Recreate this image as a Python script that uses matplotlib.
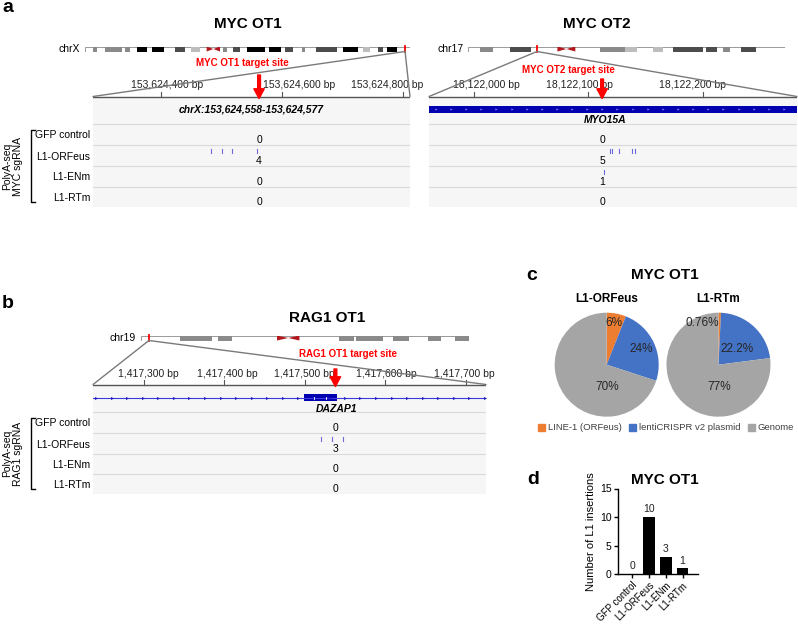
import numpy as np
import matplotlib
matplotlib.use("Agg")
import matplotlib.pyplot as plt
from matplotlib.patches import Rectangle, ConnectionPatch, Patch

plt.rcParams['font.family'] = ['Liberation Sans', 'DejaVu Sans']

W, H = 798, 627

samples = ["GFP control", "L1-ORFeus", "L1-ENm", "L1-RTm"]

# ideograms: (start Mb, end Mb, stain)
chrX_len = 156.0
chrX_bands = [(4.0, 5.9, 50), (9.6, 17.6, 50), (19.2, 21.6, 50), (25.1, 29.6, 100),
              (32.0, 37.9, 100), (43.2, 48.0, 75), (50.7, 55.2, 25), (66.1, 68.3, 50),
              (71.2, 74.4, 75), (77.6, 86.4, 100), (88.5, 93.9, 100), (96.0, 100.0, 75),
              (104.3, 105.6, 50), (110.9, 120.8, 75), (123.7, 131.2, 100),
              (133.3, 136.8, 25), (140.8, 143.2, 75), (144.8, 149.6, 100)]
chrX_cen = (58.4, 64.8)

chr17_len = 83.3
chr17_bands = [(3.2, 6.6, 50), (11.1, 16.5, 75), (34.6, 41.3, 50), (41.3, 44.4, 25),
               (48.6, 51.2, 25), (54.0, 61.7, 75), (62.6, 65.4, 75), (66.9, 68.9, 50),
               (71.7, 75.7, 75)]
chr17_cen = (23.5, 28.2)

chr19_len = 58.6
chr19_bands = [(6.9, 12.6, 50), (13.8, 16.2, 50), (35.3, 38.0, 50), (38.4, 43.2, 50),
               (45.0, 47.8, 50), (51.3, 53.6, 50), (56.1, 58.6, 50)]
chr19_cen = (24.3, 28.3)

# MYC OT1
ot1_site_mb = 153.624
ot1_view = (153624288, 153624811)
ot1_ticks = [153624400, 153624600, 153624800]
ot1_site = 153624562
ot1_region = "chrX:153,624,558-153,624,577"
ot1_insertions = [[], [153624483, 153624501, 153624517, 153624558], [], []]
ot1_counts = [0, 4, 0, 0]

# MYC OT2
ot2_site_mb = 18.122
ot2_view = (18121961, 18122282)
ot2_ticks = [18122000, 18122100, 18122200]
ot2_site = 18122112
ot2_gene = "MYO15A"
ot2_insertions = [[], [18122119, 18122121, 18122127, 18122138, 18122141], [18122114], []]
ot2_counts = [0, 5, 1, 0]

# RAG1 OT1
rag1_site_mb = 1.417
rag1_view = (1417237, 1417725)
rag1_ticks = [1417300, 1417400, 1417500, 1417600, 1417700]
rag1_site = 1417538
rag1_gene = "DAZAP1"
rag1_exon = (1417499, 1417540)
rag1_insertions = [[], [1417520, 1417534, 1417547], [], []]
rag1_counts = [0, 3, 0, 0]

# panel c
pie_sources = ["LINE-1 (ORFeus)", "lentiCRISPR v2 plasmid", "Genome"]
pie_orfeus = [6, 24, 70]
pie_rtm = [0.76, 22.2, 77]

# panel d
bar_counts = [0, 10, 3, 1]

stain_colors = {25: '#bdbdbd', 50: '#8a8a8a', 75: '#4d4d4d', 100: '#000000'}
pie_colors = ['#ED7D31', '#4472C4', '#A5A5A5']
ins_color = '#6b6bdc'
gene_blue = '#0000b0'

fig = plt.figure(figsize=(W / 100, H / 100), dpi=100, facecolor='white')


def px_axes(x0, y0, x1, y1):
    return fig.add_axes([x0 / W, 1 - y1 / H, (x1 - x0) / W, (y1 - y0) / H])


def draw_ideogram(box, length, bands, cen, site, name):
    ax = px_axes(*box)
    ax.set_xlim(0, length)
    ax.set_ylim(0, 1)
    ax.axis('off')
    ax.add_patch(Rectangle((0, 0), length, 1, fc='white', ec='#9a9a9a', lw=0.7))
    for s, e, stain in bands:
        ax.broken_barh([(s, e - s)], (0, 1), facecolors=stain_colors[stain], lw=0)
    mid = (cen[0] + cen[1]) / 2
    ax.fill([cen[0], cen[0], mid], [0, 1, 0.5], color='#b3161b', lw=0)
    ax.fill([cen[1], cen[1], mid], [0, 1, 0.5], color='#b3161b', lw=0)
    ax.plot([site, site], [-0.15, 1.15], color='red', lw=1.3, clip_on=False)
    ax.text(-length * 0.015, 0.5, name, ha='right', va='center', fontsize=7.5)
    return ax


def draw_locus(box, rows, view, ticks, tick_shift, site, arrow_top, ideo_ax, site_mb,
               insertions, counts):
    ax = px_axes(*box)
    ax.set_xlim(*view)
    ax.set_ylim(box[3], box[1])
    ax.axis('off')
    ax.axhspan(rows[0], rows[-1], color='#f6f6f6', lw=0)
    for r in rows[1:]:
        ax.axhline(r, color='#d9d9d9', lw=0.8)
    ruler_y = rows[0] - 0.5
    ax.axhline(ruler_y, color='#555555', lw=1)
    for t, sh in zip(ticks, tick_shift):
        ax.plot([t, t], [ruler_y - 5, ruler_y], color='#555555', lw=0.8)
        ax.annotate(f"{t:,} bp", (t, ruler_y - 11), xytext=(sh * 0.72, 0), textcoords='offset points',
                    ha='center', va='center', fontsize=7.5, color='#222222')
    for k, (pos, n) in enumerate(zip(insertions, counts)):
        top, bot = rows[k + 1], rows[k + 2]
        for p in pos:
            ax.plot([p, p], [top + 3.5, top + 8], color=ins_color, lw=0.8)
        ax.text(site, bot - 5, str(n), ha='center', va='center', fontsize=7.5)
    ax.annotate('', xy=(site, ruler_y + 2), xytext=(site, arrow_top),
                arrowprops=dict(arrowstyle='simple,head_length=0.7,head_width=0.75,tail_width=0.2',
                                color='red', shrinkA=0, shrinkB=0, mutation_scale=10))
    for xb in view:
        con = ConnectionPatch(xyA=(site_mb, 0), coordsA=ideo_ax.transData,
                              xyB=(xb, ruler_y), coordsB=ax.transData,
                              color='#7a7a7a', lw=1)
        fig.add_artist(con)
    return ax


rows_a = [97, 124, 145, 166, 187, 207]
rows_b = [385, 412, 433, 454, 474, 494]

# ---- panel a left
ideo1 = draw_ideogram((85, 46.5, 410, 51.5), chrX_len, chrX_bands, chrX_cen, ot1_site_mb, 'chrX')
ax1 = draw_locus((93, 60, 410, 207), rows_a, ot1_view, ot1_ticks, [6.5, 16.5, -16],
                 ot1_site, 75, ideo1, ot1_site_mb, ot1_insertions, ot1_counts)
ax1.text(np.mean(ot1_view), 109.5, ot1_region, ha='center', va='center', fontsize=7.5,
         fontweight='bold', fontstyle='italic')

# ---- panel a right
ideo2 = draw_ideogram((468, 46.5, 785, 51.5), chr17_len, chr17_bands, chr17_cen, ot2_site_mb, 'chr17')
ax2 = draw_locus((429, 60, 797, 207), rows_a, ot2_view, ot2_ticks, [13, -8.5, -11],
                 ot2_site, 79, ideo2, ot2_site_mb, ot2_insertions, ot2_counts)
ax2.axhspan(105.5, 112.5, color=gene_blue, lw=0)
chev = np.arange(ot2_view[0] + 6, ot2_view[1], 13.2)
ax2.plot(chev, np.full_like(chev, 109.0), ls='none', marker='>', ms=1.6, color='#8080ff', mew=0)
ax2.text(18122115, 119.5, ot2_gene, ha='center', va='center', fontsize=7.5,
         fontweight='bold', fontstyle='italic')

# ---- panel b
ideo3 = draw_ideogram((141, 335.5, 469, 340.5), chr19_len, chr19_bands, chr19_cen, rag1_site_mb, 'chr19')
ax3 = draw_locus((93, 350, 486, 494), rows_b, rag1_view, rag1_ticks, [4.3, 2.7, 0, 1, -1.7],
                 rag1_site, 369, ideo3, rag1_site_mb, rag1_insertions, rag1_counts)
ax3.plot(rag1_view, [397.5, 397.5], color='#3a3ae0', lw=0.8)
arr = np.arange(rag1_view[0] + 4, rag1_view[1], 19.3)
ax3.plot(arr, np.full_like(arr, 397.5), ls='none', marker='>', ms=2.2, color='#1a1ac0', mew=0)
ax3.add_patch(Rectangle((rag1_exon[0], 394), rag1_exon[1] - rag1_exon[0], 7, fc=gene_blue, lw=0))
ax3.plot([1417512, 1417512], [396.5, 398.5], color='white', lw=0.6)
ax3.plot([1417526, 1417526], [396.5, 398.5], color='white', lw=0.6)
ax3.text(1417540, 409.5, rag1_gene, ha='center', va='center', fontsize=7.5,
         fontweight='bold', fontstyle='italic')

# ---- panel c: pies
pie_label_pos = [[(0.146, 0.80), (0.67, 0.30), (0.01, -0.43)],
                 [(-0.31, 0.80), (0.35, 0.30), (0.01, -0.43)]]
for k, (vals, cx) in enumerate(zip([pie_orfeus, pie_rtm], [606.7, 718.5])):
    pax = px_axes(cx - 52, 364.7 - 52, cx + 52, 364.7 + 52)
    pax.pie(vals, colors=pie_colors, startangle=90, counterclock=False, radius=1,
            wedgeprops=dict(lw=0))
    pax.set_xlim(-1, 1)
    pax.set_ylim(-1, 1)
    pax.set_aspect('equal')
    for v, (lx, ly) in zip(vals, pie_label_pos[k]):
        pax.text(lx, ly, f"{v:g}%", ha='center', va='center', fontsize=8.5, color='#262626')

fig.legend(handles=[Patch(color=c, label=l) for c, l in zip(pie_colors, pie_sources)],
           loc='center', bbox_to_anchor=(666 / W, 1 - 428 / H), ncol=3, frameon=False,
           fontsize=6.8, handlelength=0.75, handleheight=0.75, handletextpad=0.3,
           columnspacing=0.8, borderpad=0, borderaxespad=0, labelcolor='#404040')

# ---- panel d: bars
bax = px_axes(617.7, 488.5, 698, 574)
xs = np.arange(len(samples))
bax.bar(xs, bar_counts, width=0.7, color='black')
for x, v in zip(xs, bar_counts):
    bax.annotate(str(v), (x, v), xytext=(0, 2), textcoords='offset points',
                 ha='center', va='bottom', fontsize=7.5, color='#222222')
bax.set_xlim(-0.85, 3.92)
bax.set_ylim(0, 15)
bax.set_yticks([0, 5, 10, 15])
bax.set_xticks(xs)
bax.set_xticklabels(samples, rotation=45, ha='right', rotation_mode='anchor', fontsize=7)
bax.tick_params(axis='y', labelsize=7.5, length=3, width=1, pad=1.5)
bax.tick_params(axis='x', length=3, width=1, pad=1.5)
for s in ['top', 'right']:
    bax.spines[s].set_visible(False)
for s in ['left', 'bottom']:
    bax.spines[s].set_linewidth(1)
bax.set_ylabel('Number of L1 insertions', fontsize=8, labelpad=3)

# ---- overlay text in pixel space
ov = fig.add_axes([0, 0, 1, 1])
ov.set_xlim(0, W)
ov.set_ylim(H, 0)
ov.axis('off')

for lab, x, y in [('a', 2, 12), ('b', 2, 308), ('c', 526, 280), ('d', 527, 484)]:
    ov.text(x, y, lab, fontsize=14, fontweight='bold', ha='left', va='baseline')

for t, x, y in [('MYC OT1', 248, 24), ('MYC OT2', 597, 24), ('RAG1 OT1', 327, 318.5),
                ('MYC OT1', 665, 275), ('MYC OT1', 665, 480)]:
    ov.text(x, y, t, fontsize=11, fontweight='bold', ha='center', va='center')

for t, x in [('L1-ORFeus', 606.7), ('L1-RTm', 718.5)]:
    ov.text(x, 299.5, t, fontsize=8.5, fontweight='bold', ha='center', va='center')

for t, x, y in [('MYC OT1 target site', 242, 63), ('MYC OT2 target site', 568, 70),
                ('RAG1 OT1 target site', 348, 354)]:
    ov.text(x, y, t, fontsize=7, fontweight='bold', color='red', ha='center', va='center')

for rows, guide in [(rows_a, 'PolyA-seq\nMYC sgRNA'), (rows_b, 'PolyA-seq\nRAG1 sgRNA')]:
    for k, s in enumerate(samples):
        ov.text(90, (rows[k + 1] + rows[k + 2]) / 2 + 1, s, ha='right', va='center', fontsize=7.5)
    yt, yb = rows[1] + 6, rows[-1] - 5
    ov.plot([35, 31, 31, 35], [yt, yt, yb, yb], color='black', lw=1)
    ov.text(12.5, (yt + yb) / 2, guide, rotation=90, ha='center', va='center',
            fontsize=7.5, linespacing=1.1, multialignment='center')

fig.savefig('out.png', dpi=100, facecolor='white')
